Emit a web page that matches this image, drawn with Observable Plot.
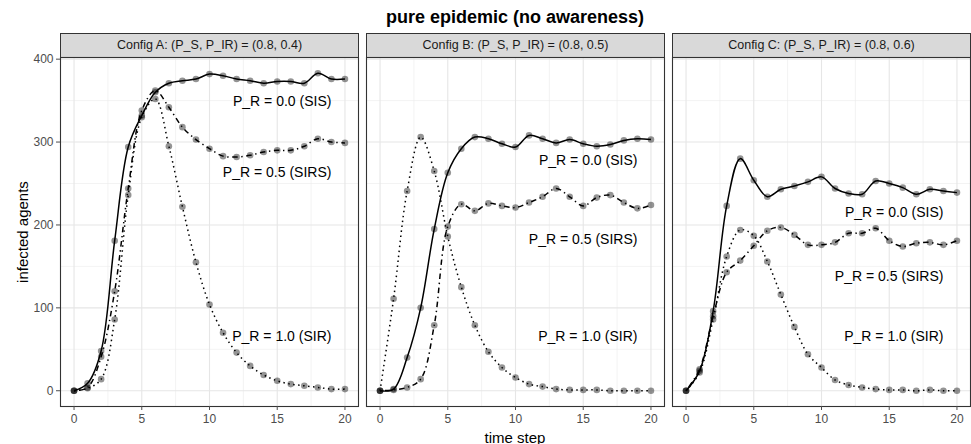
<!DOCTYPE html>
<html><head><meta charset="utf-8">
<script src="https://cdn.jsdelivr.net/npm/d3@7"></script>
<script src="https://cdn.jsdelivr.net/npm/@observablehq/plot@0.6"></script>
<style>
body{margin:0;background:#fff;}
#wrap{position:relative;width:971px;height:444px;font-family:"Liberation Sans",Arial,sans-serif;overflow:hidden;background:#fff;}
.title{position:absolute;left:60px;width:910px;top:5px;line-height:24px;text-align:center;font-weight:bold;font-size:18px;color:#000;}
.strip{position:absolute;top:33px;height:25px;box-sizing:border-box;border:1px solid #333;background:#d9d9d9;text-align:center;font-size:12.5px;line-height:23px;color:#1a1a1a;white-space:nowrap;}
.panel{position:absolute;top:56px;}
.ylab{position:absolute;left:22px;top:232px;transform:translate(-50%,-50%) rotate(-90deg);font-size:15px;white-space:nowrap;color:#000;}
.xlab{position:absolute;left:515px;top:437px;transform:translate(-50%,-50%);font-size:15px;white-space:nowrap;color:#000;}
</style></head><body>
<div id="wrap"></div>
<script>
// ---- data ----
const title = "pure epidemic (no awareness)";
const xTitle = "time step";
const yTitle = "infected agents";
const configLabels = [
  "Config A: (P_S, P_IR) = (0.8, 0.4)",
  "Config B: (P_S, P_IR) = (0.8, 0.5)",
  "Config C: (P_S, P_IR) = (0.8, 0.6)"
];
const seriesLabels = ["P_R = 0.0 (SIS)", "P_R = 0.5 (SIRS)", "P_R = 1.0 (SIR)"];
const timeSteps = [0,1,2,3,4,5,6,7,8,9,10,11,12,13,14,15,16,17,18,19,20];
const xTicks = [0,5,10,15,20];
const yTicks = [0,100,200,300,400];

const A_SIS  = [0, 9, 48, 181, 294, 332, 360, 371, 374, 376, 382, 380, 376, 374, 371, 373, 373, 371, 383, 376, 376];
const A_SIRS = [0, 4, 41, 120, 244, 338, 362, 342, 318, 303, 292, 283, 282, 284, 288, 290, 290, 295, 304, 300, 299];
const A_SIR  = [0, 3, 14, 86, 236, 330, 352, 295, 222, 155, 104, 70, 46, 30, 19, 12, 8, 6, 4, 2, 2];

const B_SIS  = [0, 2, 40, 100, 195, 263, 292, 306, 304, 298, 294, 308, 304, 299, 303, 298, 295, 297, 302, 304, 303];
const B_SIRS = [0, 1, 4, 14, 79, 198, 225, 217, 226, 223, 221, 227, 234, 244, 234, 223, 233, 236, 227, 220, 224];
const B_SIR  = [0, 111, 241, 306, 265, 186, 125, 79, 47, 28, 16, 8, 5, 2, 1, 1, 1, 0, 0, 0, 0];

const C_SIS  = [0, 24, 96, 223, 280, 254, 234, 243, 247, 252, 258, 244, 238, 237, 253, 250, 245, 237, 243, 241, 239];
const C_SIRS = [0, 26, 90, 143, 157, 175, 193, 197, 188, 176, 176, 179, 190, 190, 196, 181, 174, 178, 179, 176, 181];
const C_SIR  = [0, 22, 86, 162, 194, 187, 156, 116, 77, 44, 28, 13, 7, 4, 2, 1, 1, 0, 1, 0, 0];

// label anchor points (data coordinates: time step, infected agents)
const labelX = 19;
const labelY_A = [349, 263, 66];
const labelY_B = [278, 183, 65];
const labelY_C = [215, 138, 65];

// ---- build ----
const panelSeries = [[A_SIS, A_SIRS, A_SIR],[B_SIS, B_SIRS, B_SIR],[C_SIS, C_SIRS, C_SIR]];
const panelLabelY = [labelY_A, labelY_B, labelY_C];
const dashes = [null, "1.4 3.6 5.5 3.6", "1.5 3.5"];

const wrap = document.getElementById("wrap");
const t = document.createElement("div"); t.className = "title"; t.textContent = title; wrap.appendChild(t);
const yl = document.createElement("div"); yl.className = "ylab"; yl.textContent = yTitle; wrap.appendChild(yl);
const xl = document.createElement("div"); xl.className = "xlab"; xl.textContent = xTitle; wrap.appendChild(xl);

const panelLefts = [60, 366, 672];
const panelW = 298;

panelSeries.forEach((series, pi) => {
  const strip = document.createElement("div");
  strip.className = "strip";
  strip.style.left = panelLefts[pi] + "px";
  strip.style.width = (panelW + 1) + "px";
  strip.textContent = configLabels[pi];
  wrap.appendChild(strip);

  const rows = [];
  series.forEach((vals, si) => vals.forEach((v, i) => rows.push({t: timeSteps[i], v, s: si})));
  const labels = seriesLabels.map((lab, si) => ({x: labelX, y: panelLabelY[pi][si], lab}));

  const mL = pi === 0 ? 60 : 1;
  const marks = [
    Plot.gridX([2.5, 7.5, 12.5, 17.5], {stroke: "#ebebeb", strokeOpacity: 1, strokeWidth: 0.6}),
    Plot.gridY([50, 150, 250, 350], {stroke: "#ebebeb", strokeOpacity: 1, strokeWidth: 0.6}),
    Plot.gridX(xTicks, {stroke: "#e6e6e6", strokeOpacity: 1, strokeWidth: 1.1}),
    Plot.gridY(yTicks, {stroke: "#e6e6e6", strokeOpacity: 1, strokeWidth: 1.1}),
    Plot.frame({stroke: "#333", strokeWidth: 1.1}),
    Plot.axisX({ticks: xTicks, tickSize: 4, tickPadding: 4, fontSize: 12, color: "#4d4d4d", label: null})
  ];
  if (pi === 0) marks.push(Plot.axisY({ticks: yTicks, tickSize: 4, tickPadding: 3, fontSize: 12, color: "#4d4d4d", label: null}));
  [0,1,2].forEach(si => {
    const opts = {x: "t", y: "v", stroke: "#000", strokeWidth: 1.5, strokeLinecap: "butt", curve: "catmull-rom", filter: d => d.s === si};
    if (dashes[si]) opts.strokeDasharray = dashes[si];
    marks.push(Plot.line(rows, opts));
  });
  marks.push(Plot.dot(rows, {x: "t", y: "v", r: 3.3, fill: "#000", fillOpacity: 0.42, stroke: "none"}));
  marks.push(Plot.text(labels, {x: "x", y: "y", text: "lab", textAnchor: "end", fontSize: 14, fill: "#000"}));

  const chart = Plot.plot({
    width: mL + panelW + 1,
    height: 388,
    marginLeft: mL, marginRight: 1, marginTop: 1, marginBottom: 38,
    x: {domain: [-1, 21]},
    y: {domain: [-19, 402], axis: pi === 0 ? undefined : null},
    style: {fontFamily: "'Liberation Sans', Arial, sans-serif", background: "transparent", overflow: "visible"},
    marks
  });
  const holder = document.createElement("div");
  holder.className = "panel";
  holder.style.left = (panelLefts[pi] - mL) + "px";
  holder.appendChild(chart);
  wrap.appendChild(holder);
});
</script>
</body></html>
